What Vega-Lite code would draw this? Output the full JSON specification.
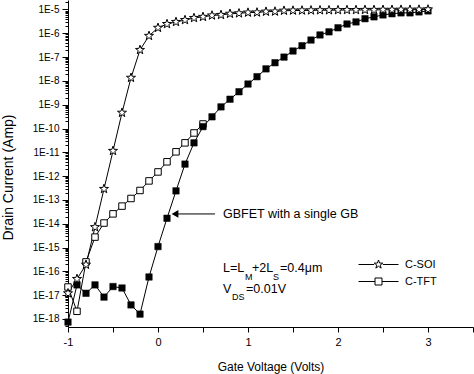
{
  "$schema": "https://vega.github.io/schema/vega-lite/v6.json",
  "width": 405,
  "height": 327,
  "autosize": {"type": "none"},
  "padding": {"left": 68, "top": 0, "right": 1, "bottom": 47},
  "background": "white",
  "config": {
    "view": {"stroke": null},
    "font": "Liberation Sans",
    "axis": {"domainColor": "black", "tickColor": "black", "labelColor": "black", "titleColor": "black", "titleFontWeight": "normal", "grid": false, "labelFont": "Liberation Sans", "titleFont": "Liberation Sans"}
  },
  "datasets": {
    "curves": [
      {"series": "C-SOI", "v": -1.0, "i": 1.2e-17},
      {"series": "C-SOI", "v": -0.9, "i": 4.8e-17},
      {"series": "C-SOI", "v": -0.8, "i": 1.9e-16},
      {"series": "C-SOI", "v": -0.7, "i": 7.2e-15},
      {"series": "C-SOI", "v": -0.6, "i": 2.9e-13},
      {"series": "C-SOI", "v": -0.5, "i": 1.15e-11},
      {"series": "C-SOI", "v": -0.4, "i": 4.6e-10},
      {"series": "C-SOI", "v": -0.3, "i": 1.35e-8},
      {"series": "C-SOI", "v": -0.2, "i": 2.0e-7},
      {"series": "C-SOI", "v": -0.1, "i": 7.8e-7},
      {"series": "C-SOI", "v": 0.0, "i": 1.7e-6},
      {"series": "C-SOI", "v": 0.1, "i": 2.45e-6},
      {"series": "C-SOI", "v": 0.2, "i": 3.0e-6},
      {"series": "C-SOI", "v": 0.3, "i": 3.6e-6},
      {"series": "C-SOI", "v": 0.4, "i": 4.4e-6},
      {"series": "C-SOI", "v": 0.5, "i": 4.9e-6},
      {"series": "C-SOI", "v": 0.6, "i": 5.6e-6},
      {"series": "C-SOI", "v": 0.7, "i": 5.9e-6},
      {"series": "C-SOI", "v": 0.8, "i": 6.6e-6},
      {"series": "C-SOI", "v": 0.9, "i": 6.9e-6},
      {"series": "C-SOI", "v": 1.0, "i": 7.4e-6},
      {"series": "C-SOI", "v": 1.1, "i": 7.5e-6},
      {"series": "C-SOI", "v": 1.2, "i": 8.1e-6},
      {"series": "C-SOI", "v": 1.3, "i": 8.2e-6},
      {"series": "C-SOI", "v": 1.4, "i": 8.9e-6},
      {"series": "C-SOI", "v": 1.5, "i": 9.0e-6},
      {"series": "C-SOI", "v": 1.6, "i": 9.1e-6},
      {"series": "C-SOI", "v": 1.7, "i": 9.2e-6},
      {"series": "C-SOI", "v": 1.8, "i": 9.3e-6},
      {"series": "C-SOI", "v": 1.9, "i": 9.3e-6},
      {"series": "C-SOI", "v": 2.0, "i": 9.4e-6},
      {"series": "C-SOI", "v": 2.1, "i": 9.5e-6},
      {"series": "C-SOI", "v": 2.2, "i": 9.5e-6},
      {"series": "C-SOI", "v": 2.3, "i": 9.6e-6},
      {"series": "C-SOI", "v": 2.4, "i": 9.6e-6},
      {"series": "C-SOI", "v": 2.5, "i": 9.7e-6},
      {"series": "C-SOI", "v": 2.6, "i": 9.7e-6},
      {"series": "C-SOI", "v": 2.7, "i": 9.8e-6},
      {"series": "C-SOI", "v": 2.8, "i": 9.8e-6},
      {"series": "C-SOI", "v": 2.9, "i": 9.9e-6},
      {"series": "C-SOI", "v": 3.0, "i": 1.0e-5},
      {"series": "C-TFT", "v": -1.0, "i": 2.2e-17},
      {"series": "C-TFT", "v": -0.9, "i": 2.1e-18},
      {"series": "C-TFT", "v": -0.8, "i": 2.5e-16},
      {"series": "C-TFT", "v": -0.7, "i": 2.75e-15},
      {"series": "C-TFT", "v": -0.6, "i": 1.07e-14},
      {"series": "C-TFT", "v": -0.5, "i": 2.6e-14},
      {"series": "C-TFT", "v": -0.4, "i": 5.5e-14},
      {"series": "C-TFT", "v": -0.3, "i": 1.15e-13},
      {"series": "C-TFT", "v": -0.2, "i": 2.5e-13},
      {"series": "C-TFT", "v": -0.1, "i": 6.3e-13},
      {"series": "C-TFT", "v": 0.0, "i": 1.5e-12},
      {"series": "C-TFT", "v": 0.1, "i": 4.0e-12},
      {"series": "C-TFT", "v": 0.2, "i": 1.05e-11},
      {"series": "C-TFT", "v": 0.3, "i": 2.5e-11},
      {"series": "C-TFT", "v": 0.4, "i": 6.5e-11},
      {"series": "C-TFT", "v": 0.5, "i": 1.55e-10},
      {"series": "GBFET", "v": -1.0, "i": 7.4e-19},
      {"series": "GBFET", "v": -0.9, "i": 2.7e-17},
      {"series": "GBFET", "v": -0.8, "i": 1.2e-17},
      {"series": "GBFET", "v": -0.7, "i": 2.7e-17},
      {"series": "GBFET", "v": -0.6, "i": 8.3e-18},
      {"series": "GBFET", "v": -0.5, "i": 2.3e-17},
      {"series": "GBFET", "v": -0.4, "i": 2.0e-17},
      {"series": "GBFET", "v": -0.3, "i": 3.9e-18},
      {"series": "GBFET", "v": -0.2, "i": 1.6e-18},
      {"series": "GBFET", "v": -0.1, "i": 5.8e-17},
      {"series": "GBFET", "v": 0.0, "i": 1.1e-15},
      {"series": "GBFET", "v": 0.1, "i": 1.7e-14},
      {"series": "GBFET", "v": 0.2, "i": 2.4e-13},
      {"series": "GBFET", "v": 0.3, "i": 3.2e-12},
      {"series": "GBFET", "v": 0.4, "i": 2.5e-11},
      {"series": "GBFET", "v": 0.5, "i": 1.2e-10},
      {"series": "GBFET", "v": 0.6, "i": 3.1e-10},
      {"series": "GBFET", "v": 0.7, "i": 8.1e-10},
      {"series": "GBFET", "v": 0.8, "i": 1.7e-9},
      {"series": "GBFET", "v": 0.9, "i": 3.5e-9},
      {"series": "GBFET", "v": 1.0, "i": 7.4e-9},
      {"series": "GBFET", "v": 1.1, "i": 1.5e-8},
      {"series": "GBFET", "v": 1.2, "i": 3.2e-8},
      {"series": "GBFET", "v": 1.3, "i": 5.8e-8},
      {"series": "GBFET", "v": 1.4, "i": 1.0e-7},
      {"series": "GBFET", "v": 1.5, "i": 1.8e-7},
      {"series": "GBFET", "v": 1.6, "i": 3.0e-7},
      {"series": "GBFET", "v": 1.7, "i": 5.2e-7},
      {"series": "GBFET", "v": 1.8, "i": 8.5e-7},
      {"series": "GBFET", "v": 1.9, "i": 1.15e-6},
      {"series": "GBFET", "v": 2.0, "i": 1.7e-6},
      {"series": "GBFET", "v": 2.1, "i": 2.45e-6},
      {"series": "GBFET", "v": 2.2, "i": 3.0e-6},
      {"series": "GBFET", "v": 2.3, "i": 4.1e-6},
      {"series": "GBFET", "v": 2.4, "i": 4.9e-6},
      {"series": "GBFET", "v": 2.5, "i": 5.9e-6},
      {"series": "GBFET", "v": 2.6, "i": 6.6e-6},
      {"series": "GBFET", "v": 2.7, "i": 7.2e-6},
      {"series": "GBFET", "v": 2.8, "i": 7.2e-6},
      {"series": "GBFET", "v": 2.9, "i": 7.9e-6},
      {"series": "GBFET", "v": 3.0, "i": 8.7e-6}
    ],
    "arrow": [
      {"v": 0.2, "v2": 0.633, "i": 2.58e-14}
    ],
    "notes": [
      {"kind": "main", "v": 0.722, "i": 2.58e-14, "t": "GBFET with a single GB"},
      {"kind": "main", "v": 0.722, "i": 1.38e-16, "t": "L=L"},
      {"kind": "sub", "v": 0.967, "i": 5.7e-17, "t": "M"},
      {"kind": "main", "v": 1.044, "i": 1.38e-16, "t": "+2L"},
      {"kind": "sub", "v": 1.278, "i": 5.7e-17, "t": "S"},
      {"kind": "main", "v": 1.356, "i": 1.38e-16, "t": "=0.4μm"},
      {"kind": "main", "v": 0.722, "i": 1.82e-17, "t": "V"},
      {"kind": "sub", "v": 0.822, "i": 8.3e-18, "t": "DS"},
      {"kind": "main", "v": 0.978, "i": 1.82e-17, "t": "=0.01V"}
    ]
  },
  "encoding": {
    "x": {
      "field": "v", "type": "quantitative",
      "scale": {"domain": [-1, 3.5], "nice": false, "zero": false},
      "axis": {
        "title": "Gate Voltage (Volts)",
        "values": [-1, -0.5, 0, 0.5, 1, 1.5, 2, 2.5, 3, 3.5],
        "labelExpr": "datum.value % 1 == 0 ? '' + datum.value : ''",
        "tickSize": 5, "labelPadding": 4, "labelFontSize": 11, "labelFlush": false, "labelOverlap": false,
        "titleFontSize": 12, "titleBaseline": "middle", "titleY": 39
      }
    },
    "y": {
      "field": "i", "type": "quantitative",
      "scale": {"type": "log", "domain": [4.6e-19, 2.5e-5], "nice": false},
      "axis": {
        "title": "Drain Current (Amp)",
        "tickCount": 100,
        "labelExpr": "abs(log(datum.value)/LN10 - round(log(datum.value)/LN10)) < 0.001 ? '1E' + round(log(datum.value)/LN10) : ''",
        "tickSize": {"condition": {"test": "abs(log(datum.value)/LN10 - round(log(datum.value)/LN10)) < 0.001", "value": 6}, "value": 3},
        "labelPadding": 3, "labelFontSize": 10, "labelFlush": false, "labelOverlap": false,
        "titleFontSize": 14, "titleX": -60, "titleY": 177, "titleAlign": "center", "titleBaseline": "middle", "titleAngle": -90
      }
    }
  },
  "layer": [
    {
      "data": {"name": "curves"},
      "mark": {"type": "line", "color": "black", "strokeWidth": 1},
      "encoding": {"detail": {"field": "series"}}
    },
    {
      "data": {"name": "curves"},
      "transform": [{"filter": "datum.series == 'C-TFT'"}],
      "mark": {"type": "point", "shape": "square", "filled": true, "fill": "white", "stroke": "black", "strokeWidth": 1, "size": 42, "opacity": 1}
    },
    {
      "data": {"name": "curves"},
      "transform": [{"filter": "datum.series == 'GBFET'"}],
      "mark": {"type": "point", "shape": "square", "filled": true, "fill": "black", "stroke": "black", "strokeWidth": 0.5, "size": 42, "opacity": 1}
    },
    {
      "data": {"name": "curves"},
      "transform": [{"filter": "datum.series == 'C-SOI'"}],
      "mark": {"type": "point", "shape": "M0,-1L0.235,-0.324L0.951,-0.309L0.380,0.124L0.588,0.809L0,0.4L-0.588,0.809L-0.380,0.124L-0.951,-0.309L-0.235,-0.324Z", "filled": true, "fill": "white", "stroke": "black", "strokeWidth": 1, "size": 90, "opacity": 1}
    },
    {
      "data": {"name": "curves"},
      "transform": [{"filter": "datum.series != 'GBFET' && datum.v > 100"}],
      "mark": {"type": "point", "filled": false, "color": "black", "stroke": "black", "strokeWidth": 1, "opacity": 1},
      "encoding": {
        "shape": {
          "field": "series", "type": "nominal",
          "scale": {
            "domain": ["C-SOI", "C-TFT"],
            "range": [
              "M-2,0H-0.43M0.43,0H2M0,-0.45L0.106,-0.146L0.428,-0.139L0.171,0.056L0.265,0.364L0,0.18L-0.265,0.364L-0.171,0.056L-0.428,-0.139L-0.106,-0.146Z",
              "M-2,0H-0.35M0.35,0H2M-0.35,-0.35H0.35V0.35H-0.35Z"
            ]
          },
          "legend": {
            "title": null, "orient": "none", "legendX": 300, "legendY": 254,
            "padding": 0, "rowPadding": -1, "symbolSize": 400,
            "symbolFillColor": "white", "symbolStrokeColor": "black", "symbolStrokeWidth": 1, "symbolOpacity": 1,
            "labelFontSize": 11, "labelColor": "black", "labelOffset": 16, "labelFont": "Liberation Sans",
            "encode": {"symbols": {"update": {"stroke": {"value": "black"}, "fill": {"value": "white"}, "strokeWidth": {"value": 1}, "opacity": {"value": 1}}}}
          }
        }
      }
    },
    {
      "data": {"name": "arrow"},
      "mark": {"type": "rule", "color": "black", "strokeWidth": 1},
      "encoding": {"x2": {"field": "v2"}}
    },
    {
      "data": {"name": "arrow"},
      "mark": {"type": "point", "shape": "triangle-left", "filled": true, "color": "black", "size": 60, "opacity": 1, "xOffset": -1}
    },
    {
      "data": {"name": "notes"},
      "transform": [{"filter": "datum.kind == 'main'"}],
      "mark": {"type": "text", "align": "left", "baseline": "middle", "fontSize": 12.5, "color": "black", "font": "Liberation Sans"},
      "encoding": {"text": {"field": "t"}}
    },
    {
      "data": {"name": "notes"},
      "transform": [{"filter": "datum.kind == 'sub'"}],
      "mark": {"type": "text", "align": "left", "baseline": "middle", "fontSize": 9, "color": "black", "font": "Liberation Sans"},
      "encoding": {"text": {"field": "t"}}
    }
  ]
}
